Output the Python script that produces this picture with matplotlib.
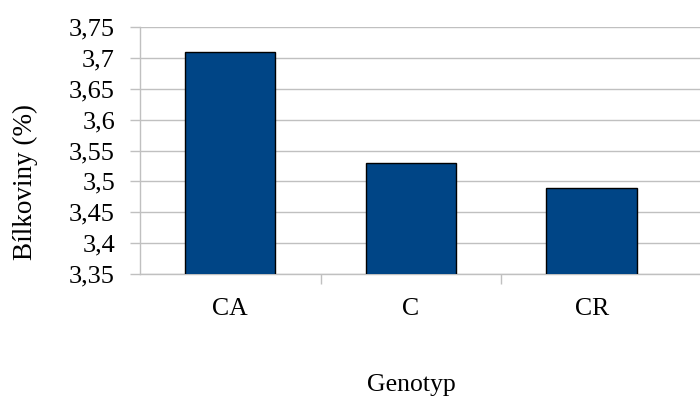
import numpy as np
import matplotlib
matplotlib.use("Agg")
import matplotlib.pyplot as plt

categories = ["CA", "C", "CR"]
values = [3.71, 3.53, 3.49]
yticks = [3.35, 3.40, 3.45, 3.50, 3.55, 3.60, 3.65, 3.70, 3.75]
ytick_labels = ["3,35", "3,4", "3,45", "3,5", "3,55", "3,6", "3,65", "3,7", "3,75"]

plt.rcParams['font.family'] = ['Liberation Serif', 'DejaVu Serif']
grid_c = '#c0c0c0'

fig = plt.figure(figsize=(7.0, 4.01), dpi=100)
ax = fig.add_axes([0.2, 1 - 274/401, 0.8, (274 - 27)/401])

x = np.arange(len(categories))
ax.bar(x, values, width=0.5, color='#004586', edgecolor='black', linewidth=1.0, zorder=3)

ax.set_ylim(3.35, 3.75)
ax.set_yticks(yticks)
ax.set_yticklabels(ytick_labels, fontsize=19)
ax.set_xlim(-0.5, 2.5 + 18/180.5)
ax.set_xticks(x)
ax.set_xticklabels(categories, fontsize=18.5)
ax.tick_params(axis='x', length=0, pad=17)
ax.tick_params(axis='y', length=7, color=grid_c, width=1, pad=11)
# category separator ticks
ax.set_xticks([0.5, 1.5], minor=True)
ax.tick_params(axis='x', which='minor', length=7, color=grid_c, width=1)

ax.yaxis.grid(True, color=grid_c, linewidth=1, zorder=0)
ax.set_axisbelow(True)
for s in ['top', 'right']:
    ax.spines[s].set_visible(False)
for s in ['left', 'bottom']:
    ax.spines[s].set_color(grid_c)
    ax.spines[s].set_linewidth(1)

fig.text(25/700, 1 - 182/401, "Bílkoviny (%)", rotation=90, fontsize=19.5,
         ha='center', va='center')
fig.text(411/700, 1 - 385/401, "Genotyp", fontsize=18.5, ha='center', va='center')

fig.savefig("out.png", dpi=100)
